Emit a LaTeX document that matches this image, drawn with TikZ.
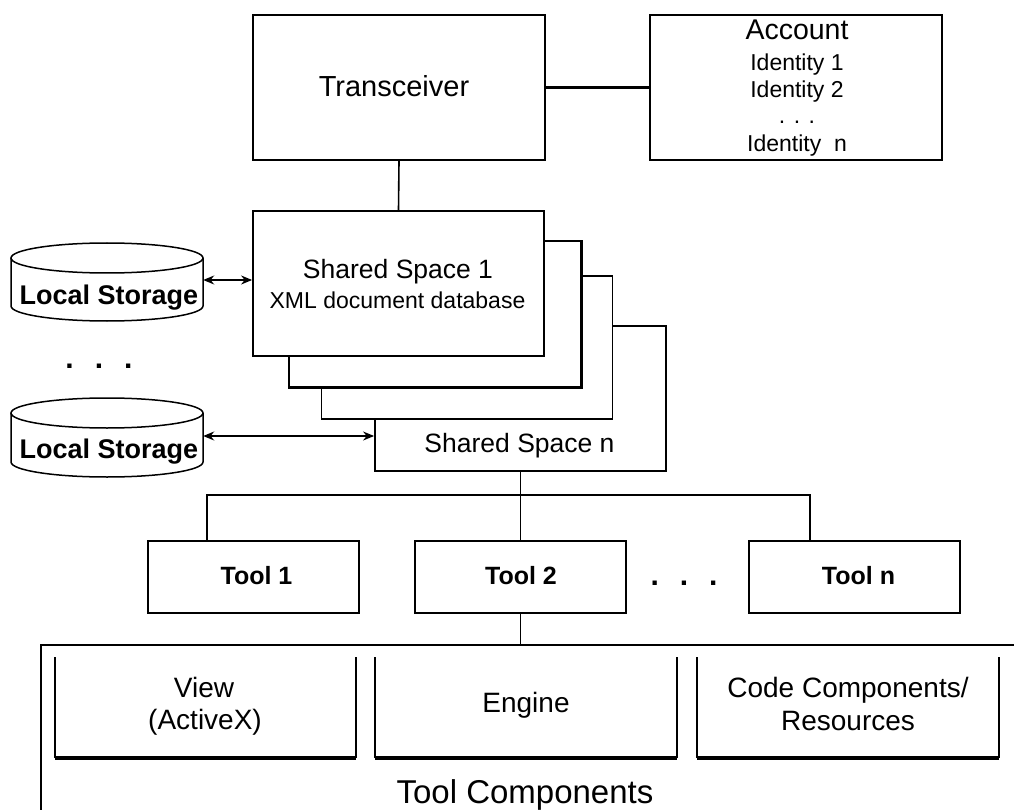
\documentclass[tikz,border=0pt]{standalone}
\usepackage{fontspec}
\setmainfont{Liberation Sans}
\usetikzlibrary{arrows.meta}
\newcommand\fs[1]{\fontsize{#1}{#1}\selectfont}
\begin{document}
\begin{tikzpicture}[x=1pt,y=-1pt,
  box/.style={draw, fill=white, line width=1.8pt, inner sep=0pt},
  bigbox/.style={box, minimum width=291pt, minimum height=145pt},
  toolbox/.style={box, minimum width=211pt, minimum height=72pt},
  txt/.style={inner sep=0pt, anchor=base},
  conn/.style={line width=1.6pt},
  dbl/.style={line width=1.4pt, {Stealth[length=11pt,width=9pt]}-{Stealth[length=11pt,width=9pt]}},
  cyl/.style={line width=1.5pt, fill=white},
  ghost/.style={inner sep=0pt, minimum width=192pt, minimum height=78pt},
  thin/.style={line width=1.6pt},
  thickbot/.style={line width=4pt}
]
\useasboundingbox (0,0) rectangle (1014,810);
\clip (0,0) rectangle (1014,810);

% Transceiver and Account
\node[box, minimum width=292pt, minimum height=145pt] (trans) at (399,87.5) {};
\node[txt, font=\fs{29}] (transtxt) at (394,97) {Transceiver};
\node[box, minimum width=292pt, minimum height=145pt] (account) at (796,87.5) {};
\node[txt, font=\fs{28.5}] (acct) at (797,40) {Account};
\node[txt, font=\fs{23}] (id1) at (797,71) {Identity 1};
\node[txt, font=\fs{23}] (id2) at (797,98) {Identity 2};
\node[txt, font=\fs{23}] (iddots) at (797,124) {. . .};
\node[txt, font=\fs{23}] (idn) at (797,152) {Identity\ \ n};
\draw[line width=3pt] (trans.east) -- (account.west);

% Shared space stack
\node[bigbox] (ssn) at (520.5,398.5) {};
\node[bigbox, minimum height=143pt] (ss3) at (467,347.5) {};
\node[bigbox, minimum width=292pt, minimum height=146pt] (ss2) at (435,314) {};
\draw[line width=3pt] (ss2.north east) -- (ss2.south east) -- (ss2.south west);
\node[bigbox] (ss1) at (398.5,283.5) {};
\node[txt, font=\fs{26.5}] (ss1txt) at (398,278) {Shared Space 1};
\node[txt, font=\fs{23}] (ss1sub) at (397.5,308) {XML document database};
\node[txt, font=\fs{26.5}] (ssntxt) at (519.5,452) {Shared Space n};
\draw[conn] (trans.south) -- (ss1.north);

% Local storage cylinders
\node[ghost] (cyl1) at (107,282) {};
\draw[cyl] (11,258) -- (11,306) arc[start angle=180, end angle=0, x radius=96, y radius=15] -- (203,258);
\draw[cyl] (107,258) ellipse[x radius=96, y radius=15];
\node[txt, font=\fs{27}\bfseries] (ls1) at (109,304) {Local Storage};

\node[ghost] (cyl2) at (107,437.5) {};
\draw[cyl] (11,413) -- (11,462) arc[start angle=180, end angle=0, x radius=96, y radius=15] -- (203,413);
\draw[cyl] (107,413) ellipse[x radius=96, y radius=15];
\node[txt, font=\fs{27}\bfseries] (ls2) at (109,458) {Local Storage};

\node[txt, font=\fs{30}\bfseries] (ldots) at (99,368) {.\hspace{21pt}.\hspace{21pt}.};

\coordinate (a1) at (0,280);
\coordinate (a2) at (0,436);
\draw[dbl] (a1 -| cyl1.east) -- (a1 -| ss1.west);
\draw[dbl] (a2 -| cyl2.east) -- (a2 -| ssn.west);

% Tools
\node[toolbox] (tool1) at (253.5,577) {};
\node[toolbox] (tool2) at (520.5,577) {};
\node[toolbox] (tooln) at (854.5,577) {};
\node[txt, font=\fs{25}\bfseries] (t1txt) at (256.5,584) {Tool 1};
\node[txt, font=\fs{25}\bfseries] (t2txt) at (521,584) {Tool 2};
\node[txt, font=\fs{25}\bfseries] (tntxt) at (858.5,584) {Tool n};
\node[txt, font=\fs{30}\bfseries] (tdots) at (684,585) {.\hspace{21pt}.\hspace{21pt}.};

\coordinate (busL) at (207,495);
\coordinate (busR) at (810,495);
\draw[conn] (busL |- tool1.north) -- (busL) -- (busR) -- (busR |- tooln.north);
\draw[conn] (ssn.south) -- (tool2.north);

% Tool components
\coordinate (tcTL) at (41,645);
\draw[thin] (41,830) -- (tcTL) -- (1030,645);
\draw[conn] (tool2.south) -- (tool2.south |- tcTL);

\draw[thin] (55,657) -- (55,758);
\draw[thin] (356,657) -- (356,758);
\draw[thickbot] (55,758) -- (356,758);
\draw[thin] (375,657) -- (375,758);
\draw[thin] (677,657) -- (677,758);
\draw[thickbot] (375,758) -- (677,758);
\draw[thin] (697,657) -- (697,758);
\draw[thin] (999,657) -- (999,758);
\draw[thickbot] (697,758) -- (999,758);

\node[txt, font=\fs{28}] (view1) at (204,697) {View};
\node[txt, font=\fs{28}] (view2) at (205,729) {(ActiveX)};
\node[txt, font=\fs{28}] (engine) at (526,712) {Engine};
\node[txt, font=\fs{28}] (code1) at (848,697) {Code Components/};
\node[txt, font=\fs{28}] (code2) at (848,730) {Resources};
\node[txt, font=\fs{33}] (tctxt) at (525,803) {Tool Components};
\end{tikzpicture}
\end{document}
